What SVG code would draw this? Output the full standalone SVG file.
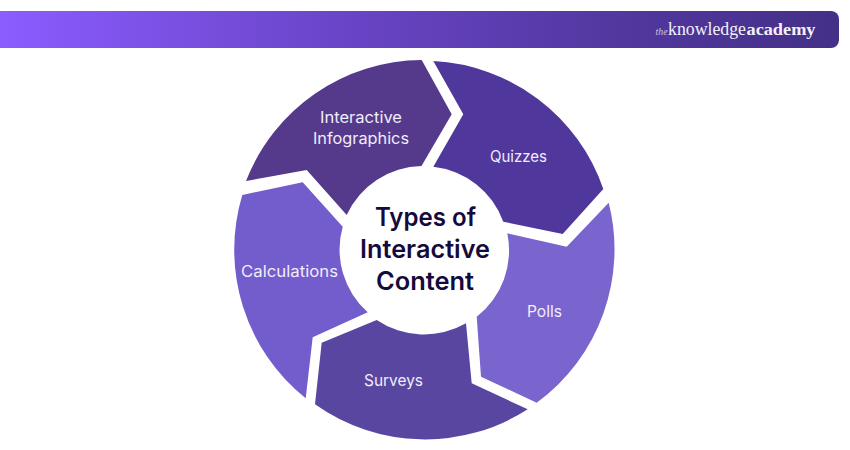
<svg xmlns="http://www.w3.org/2000/svg" width="850" height="450" viewBox="0 0 850 450">
<style>
.l{font-family:"Inter","Noto Sans","Liberation Sans",sans-serif;font-size:15.5px;fill:#f1edfb}
.t{font-family:"Inter","Noto Sans","Liberation Sans",sans-serif;font-size:25px;font-weight:600;fill:#150a3c}
.b{font-family:"Liberation Serif",serif;fill:#f4f1fb}
</style>
<defs><linearGradient id="g" x1="0" y1="0" x2="1" y2="0"><stop offset="0" stop-color="#8b5cff"/><stop offset="0.4" stop-color="#6a45c8"/><stop offset="0.75" stop-color="#51379e"/><stop offset="1" stop-color="#443087"/></linearGradient></defs>
<rect width="850" height="450" fill="#fff"/>
<g id="header"><path d="M0 11H831a8 8 0 0 1 8 8V40a8 8 0 0 1-8 8H0Z" fill="url(#g)"/>
<text x="655.5" y="34.5" class="b" font-size="11" font-style="italic" fill-opacity="0.75" textLength="12" lengthAdjust="spacingAndGlyphs">the</text>
<text x="668" y="34.5" class="b" font-size="18" textLength="78" lengthAdjust="spacingAndGlyphs">knowledge</text>
<text x="746.5" y="34.5" class="b" font-size="17" font-weight="700" textLength="69" lengthAdjust="spacingAndGlyphs">academy</text></g>
<g id="connectors"></g>
<g id="node-infographics"><path d="M421.7 60L451.7 114.3L421.5 166A84 84 0 0 0 346.7 215L306.7 170L246 181A190 190 0 0 1 421.7 60Z" fill="#553a8c"/>
<text x="320" y="123" class="l" textLength="82" lengthAdjust="spacingAndGlyphs">Interactive</text><text x="313" y="144" class="l" textLength="96" lengthAdjust="spacingAndGlyphs">Infographics</text></g>
<g id="node-quizzes"><path d="M433.3 61L463.3 114.3L433.3 166.7A84 84 0 0 1 503.3 221.7L562.7 234L603.3 189A190 190 0 0 0 433.3 61Z" fill="#4f379b"/>
<text x="490" y="162" class="l" textLength="57" lengthAdjust="spacingAndGlyphs">Quizzes</text></g>
<g id="node-polls"><path d="M608.7 202.7L566.7 246.7L507.3 233.3A84 84 0 0 1 476.7 316.7L481 376.7L536.7 402.7A190 190 0 0 0 608.7 202.7Z" fill="#7a64ce"/>
<text x="527" y="317" class="l" textLength="35" lengthAdjust="spacingAndGlyphs">Polls</text></g>
<g id="node-surveys"><path d="M466 323.3L471.7 383.3L527.7 409.3A190 190 0 0 1 315 404.3L321.7 342.7L376.7 320A84 84 0 0 0 466 323.3Z" fill="#5946a0"/>
<text x="364" y="386" class="l" textLength="59" lengthAdjust="spacingAndGlyphs">Surveys</text></g>
<g id="node-calculations"><path d="M367.7 312.3L312.7 337.3L305.7 398.3A190 190 0 0 1 242.3 195L302.7 182.3L342.7 226.7A84 84 0 0 0 367.7 312.3Z" fill="#735ccb"/>
<text x="241" y="277" class="l" textLength="97" lengthAdjust="spacingAndGlyphs">Calculations</text></g>
<g id="node-center"><text x="375" y="226" class="t" textLength="101" lengthAdjust="spacingAndGlyphs">Types of</text><text x="360" y="258" class="t" textLength="130" lengthAdjust="spacingAndGlyphs">Interactive</text><text x="376" y="290" class="t" textLength="98" lengthAdjust="spacingAndGlyphs">Content</text></g>
</svg>
